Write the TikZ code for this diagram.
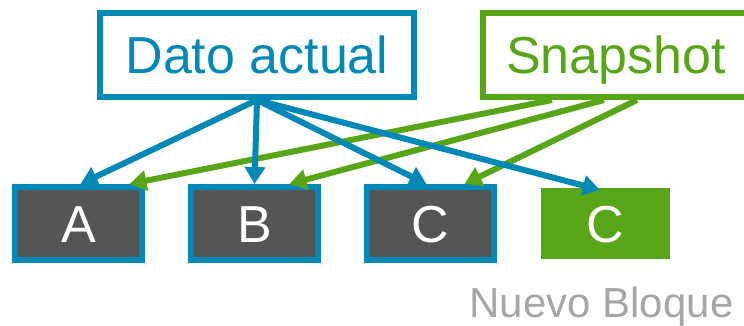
\documentclass[tikz,border=0pt]{standalone}
\usepackage{fontspec}
\setmainfont{Liberation Sans}
\usepackage{xcolor}
\usepackage{tikz}
\usetikzlibrary{arrows.meta,positioning}
\definecolor{azul}{RGB}{0,136,183}
\definecolor{verde}{RGB}{88,166,24}
\definecolor{gris}{RGB}{85,85,85}
\definecolor{grisclaro}{RGB}{166,166,166}

\begin{document}
\begin{tikzpicture}
		[x=1pt,y=-1pt,
		cabeza/.style={line width=6pt,fill=white,inner sep=0pt,text height=38pt,text depth=0pt,font=\fontsize{52}{60}\selectfont},
		bloque/.style={draw=azul,line width=6pt,fill=gris,text=white,minimum width=127pt,minimum height=73pt,inner sep=0pt,text height=38pt,text depth=0pt,font=\fontsize{52}{60}\selectfont},
		flecha/.style={line width=6pt,-{Triangle[length=17pt,width=20pt]}},
		node distance=43pt]
		\useasboundingbox (0,0) rectangle (744,326);
		\clip (0,0) rectangle (744,326);
		\node[cabeza,draw=azul,text=azul,minimum width=314pt,minimum height=84pt] (actual) at (257,55) {Dato actual};
		\node[cabeza,draw=verde,text=verde,minimum width=266pt,minimum height=84pt] (snap) at (616,55) {Snapshot};
		\node[bloque] (a) at (78.5,223.5) {A};
		\node[bloque,right=of a] (b) {B};
		\node[bloque,right=of b] (c) {C};
		\node[fill=verde,text=white,minimum width=129pt,minimum height=71pt,inner sep=0pt,text height=38pt,text depth=0pt,font=\fontsize{52}{60}\selectfont,right=44pt of c] (cnuevo) {C};
		\node[text=grisclaro,anchor=base east,font=\fontsize{42}{48}\selectfont] (nuevo) at (737,317) {Nuevo Bloque};
		% snapshot
		\draw[flecha,verde] ([xshift=-64pt]snap.south) -- ([xshift=51pt]a.north);
		\draw[flecha,verde] ([xshift=-12pt]snap.south) -- ([xshift=35pt]b.north);
		\draw[flecha,verde] ([xshift=21pt]snap.south) -- ([xshift=34pt]c.north);
		% dato actual
		\draw[flecha,azul] (actual.south) -- ([xshift=2pt]a.north);
		\draw[flecha,azul] (actual.south) -- (b.north);
		\draw[flecha,azul] (actual.south) -- ([xshift=-4pt]c.north);
		\draw[flecha,azul] (actual.south) -- ([xshift=-6pt,yshift=-2pt]cnuevo.north);
\end{tikzpicture}
\end{document}
